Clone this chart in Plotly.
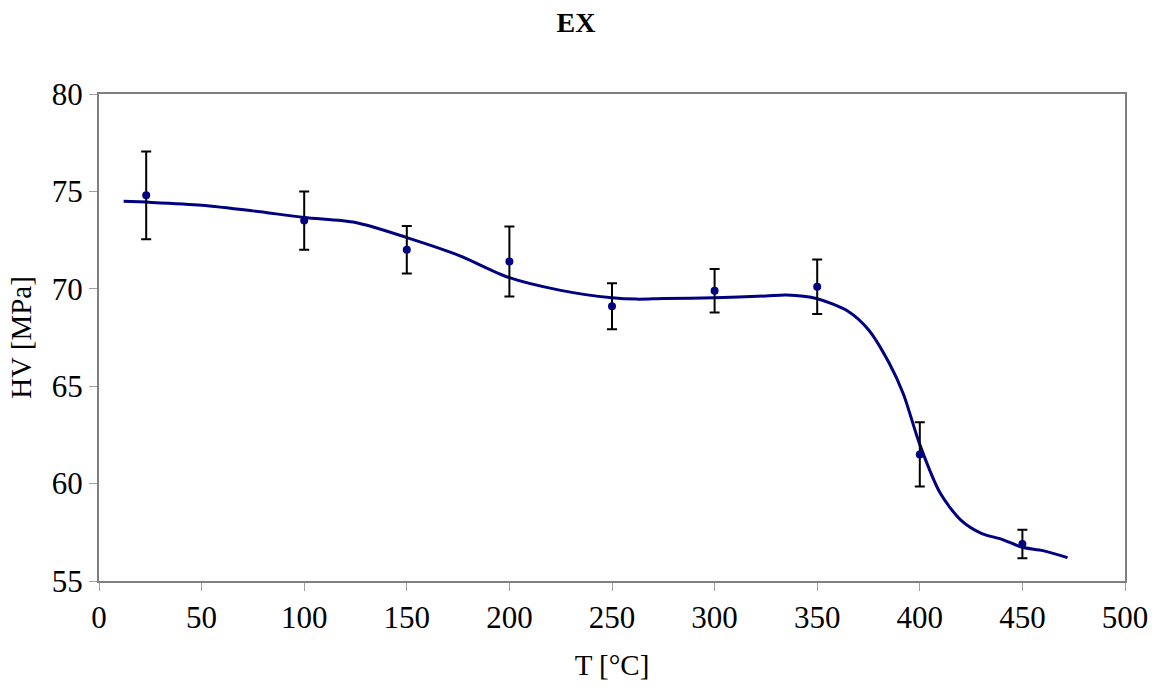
import plotly.graph_objects as go

# Measured points
temp = [23, 100, 150, 200, 250, 300, 350, 400, 450]
hv = [74.8, 73.5, 72.0, 71.4, 69.1, 69.9, 70.1, 61.5, 56.9]
hv_err = [2.25, 1.5, 1.22, 1.8, 1.18, 1.12, 1.4, 1.65, 0.73]

# Trend curve
curve_t = [12, 23, 50, 75, 100, 125, 150, 175, 200, 225, 250, 262, 275, 300, 325, 335,
           350, 365, 375, 385, 392, 400, 410, 420, 430, 440, 450, 460, 472]
curve_hv = [74.5, 74.45, 74.29, 74.0, 73.66, 73.4, 72.63, 71.73, 70.57, 69.92, 69.54, 69.47,
            69.5, 69.54, 69.63, 69.68, 69.49, 68.85, 67.9, 66.2, 64.6, 62.0, 59.5, 58.13,
            57.45, 57.14, 56.73, 56.56, 56.2]

font = "Liberation Serif, Times New Roman, serif"
navy = "#000080"

fig = go.Figure()
fig.add_trace(go.Scatter(
    x=curve_t, y=curve_hv, mode="lines",
    line=dict(color=navy, width=3, shape="spline", smoothing=0.8),
    hoverinfo="skip", showlegend=False))
fig.add_trace(go.Scatter(
    x=temp, y=hv, mode="markers",
    marker=dict(color=navy, size=8),
    error_y=dict(type="data", array=hv_err, visible=True, color="black", thickness=2, width=5),
    showlegend=False))

axis_common = dict(
    showgrid=False, zeroline=False, showline=True, linecolor="#808080", linewidth=2,
    mirror=True, ticks="outside", ticklen=8, tickcolor="#a0a0a0", tickwidth=1,
    tickfont=dict(family=font, size=31, color="black"),
)

fig.update_layout(
    width=1160, height=688,
    margin=dict(l=99, r=33, t=94, b=106),
    paper_bgcolor="white", plot_bgcolor="white",
    title=dict(text="<b>EX</b>", x=576 / 1160, xref="container", xanchor="center",
               y=1 - 22 / 688, yanchor="middle",
               font=dict(family=font, size=28, color="black")),
    xaxis=dict(range=[0, 500], dtick=50, tick0=0,
               title=dict(text="T [°C]", font=dict(family=font, size=29, color="black"), standoff=20),
               **axis_common),
    yaxis=dict(range=[55, 80], dtick=5, tick0=55,
               title=dict(text="HV [MPa]", font=dict(family=font, size=29, color="black"), standoff=12),
               **axis_common),
)

fig.write_html("out.html")
